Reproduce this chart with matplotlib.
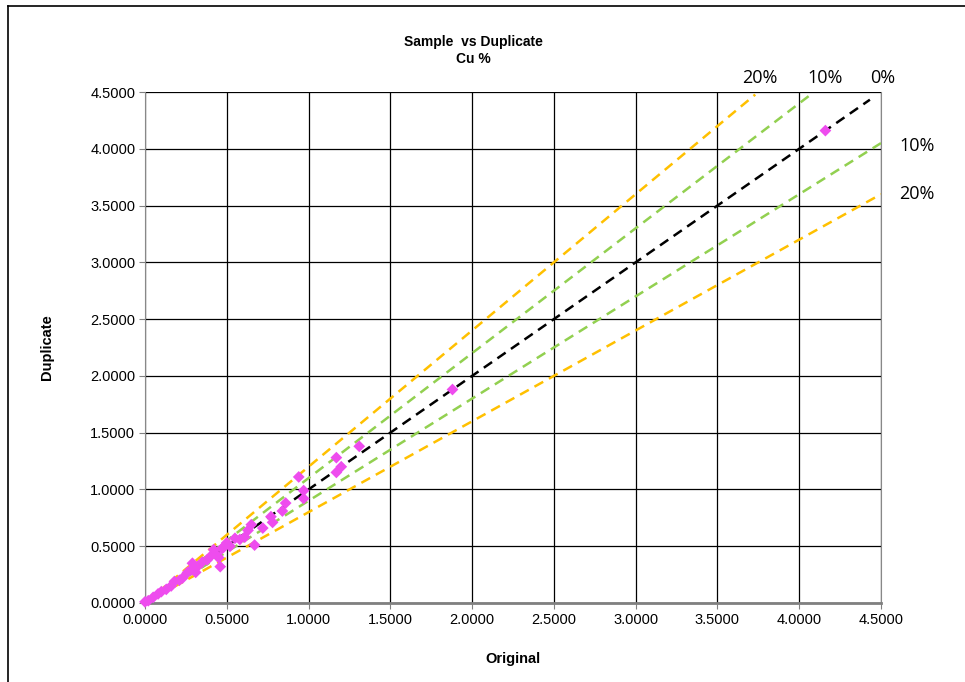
import matplotlib.pyplot as plt
from matplotlib.lines import Line2D
import numpy as np

# sample / duplicate assay pairs, Cu %
original = [0.00, 0.02, 0.05, 0.08, 0.10, 0.13, 0.16, 0.18, 0.21, 0.23,
            0.26, 0.28, 0.29, 0.31, 0.32, 0.35, 0.38, 0.40, 0.42, 0.44,
            0.45, 0.46, 0.47, 0.48, 0.50, 0.52, 0.55, 0.58, 0.61, 0.63,
            0.65, 0.67, 0.72, 0.77, 0.78, 0.84, 0.86, 0.94, 0.97, 0.97,
            1.17, 1.17, 1.20, 1.31, 1.88, 4.16]
duplicate = [0.01, 0.02, 0.05, 0.08, 0.10, 0.12, 0.15, 0.19, 0.20, 0.22,
             0.27, 0.29, 0.35, 0.27, 0.32, 0.36, 0.38, 0.41, 0.47, 0.42,
             0.40, 0.32, 0.48, 0.49, 0.53, 0.50, 0.57, 0.56, 0.58, 0.64,
             0.69, 0.51, 0.66, 0.76, 0.71, 0.81, 0.88, 1.11, 0.99, 0.92,
             1.28, 1.15, 1.20, 1.38, 1.88, 4.16]

# tolerance lines: duplicate = factor * original
upper_20, upper_10, zero, lower_10, lower_20 = 1.2, 1.1, 1.0, 0.9, 0.8
ticks = np.arange(0, 4.51, 0.5)

plt.rcParams["font.family"] = ["Liberation Sans", "DejaVu Sans"]

fig = plt.figure(figsize=(9.65, 6.82), dpi=100)
ax = fig.add_axes([145 / 965, 1 - 603 / 682, 736 / 965, 511 / 682])

xs = np.linspace(0, 4.5, 200)
dash = (4, 2.6)
for f, c in [(upper_20, "#FFC000"), (lower_20, "#FFC000"),
             (upper_10, "#92D050"), (lower_10, "#92D050")]:
    m = f * xs <= 4.5
    ax.plot(xs[m], f * xs[m], color=c, lw=1.8, ls=(0, dash), zorder=3)
ax.plot(xs[xs <= 4.45], zero * xs[xs <= 4.45], color="black", lw=1.8, ls=(0, dash), zorder=4)

ax.scatter(original, duplicate, marker="D", s=36, color="#EE4CEE",
           edgecolors="none", zorder=5, clip_on=False)

ax.set_xlim(0, 4.5)
ax.set_ylim(0, 4.5)
ax.set_xticks(ticks)
ax.set_yticks(ticks)
ax.set_xticklabels([f"{t:.4f}" for t in ticks], fontsize=10.5)
ax.set_yticklabels([f"{t:.4f}" for t in ticks], fontsize=10.5)
ax.grid(True, color="black", lw=0.9)
ax.set_axisbelow(True)
for s in ["left", "right", "top"]:
    ax.spines[s].set_color("#888888")
ax.spines["top"].set_visible(False)
ax.spines["bottom"].set_color("#808080")
ax.spines["bottom"].set_linewidth(2)
ax.tick_params(direction="out", length=4, color="#808080", pad=3)

ax.set_xlabel("Original", fontsize=10.5, fontweight="bold", labelpad=18)
ax.set_ylabel("Duplicate", fontsize=10.5, fontweight="bold", labelpad=26)

fig.text(473 / 965, 1 - 42 / 682, "Sample  vs Duplicate", ha="center", va="center",
         fontsize=10, fontweight="bold")
fig.text(473 / 965, 1 - 59 / 682, "Cu %", ha="center", va="center",
         fontsize=10, fontweight="bold")

lab = dict(fontsize=13, family=["Open Sans", "DejaVu Sans"], color="black",
           ha="center", va="center")
fig.text(760 / 965, 1 - 78 / 682, "20%", **lab)
fig.text(825 / 965, 1 - 78 / 682, "10%", **lab)
fig.text(883 / 965, 1 - 78 / 682, "0%", **lab)
fig.text(917 / 965, 1 - 146 / 682, "10%", **lab)
fig.text(917 / 965, 1 - 194 / 682, "20%", **lab)

# chart area border (top and left edges visible)
fig.add_artist(Line2D([8 / 965, 1], [1 - 6 / 682, 1 - 6 / 682], color="black", lw=1.2))
fig.add_artist(Line2D([8 / 965, 8 / 965], [0, 1 - 6 / 682], color="black", lw=1.2))

fig.savefig("out.png", dpi=100)
